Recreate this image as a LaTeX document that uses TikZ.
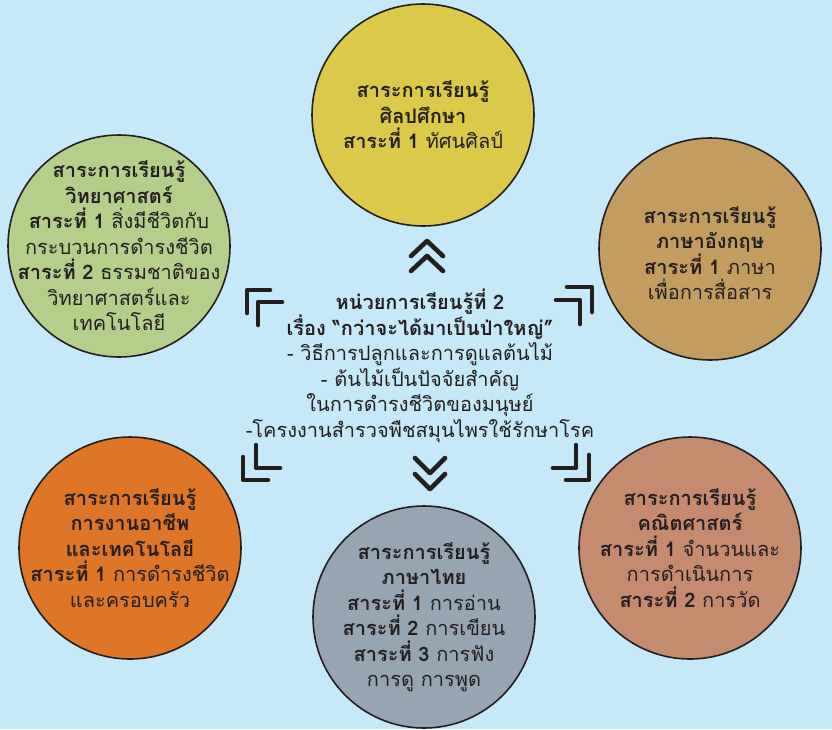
\documentclass[tikz,border=0pt]{standalone}
\usepackage{fontspec}
\setmainfont[Script=Thai]{Loma}
\definecolor{bg}{RGB}{198,233,249}
\definecolor{ink}{RGB}{35,31,32}
\definecolor{cyellow}{RGB}{220,201,74}
\definecolor{cgreen}{RGB}{181,207,138}
\definecolor{ctan}{RGB}{194,157,95}
\definecolor{corange}{RGB}{222,117,39}
\definecolor{cgrey}{RGB}{151,165,178}
\definecolor{cpink}{RGB}{196,139,110}
\tikzset{
  subj/.style={circle, draw=ink, line width=1.6pt, inner sep=0pt, minimum size=222pt},
  txt/.style={align=center, text=ink, inner sep=0pt, font=\fontsize{20}{25.5}\selectfont},
  glyphline/.style={draw=ink, line width=4.6pt, line cap=round, line join=round},
}
\begin{document}
\begin{tikzpicture}[x=1pt,y=-1pt]
\useasboundingbox[fill=bg] (0,0) rectangle (832,729);
% circles
\node[subj, fill=cyellow] (art) at (423,115) {};
\node[subj, fill=cgreen] (sci) at (119,246) {};
\node[subj, fill=ctan] (eng) at (710,249) {};
\node[subj, fill=corange] (occ) at (130,548) {};
\node[subj, fill=cgrey] (tha) at (424,617) {};
\node[subj, fill=cpink] (mat) at (690,548) {};
% texts
\node[txt] (artT) at (art) {\textbf{สาระการเรียนรู้}\\\textbf{ศิลปศึกษา}\\\textbf{สาระที่ 1} ทัศนศิลป์};
\node[txt] (sciT) at (sci) {\textbf{สาระการเรียนรู้}\\\textbf{วิทยาศาสตร์}\\\textbf{สาระที่ 1} สิ่งมีชีวิตกับ\\กระบวนการดำรงชีวิต\\\textbf{สาระที่ 2} ธรรมชาติของ\\วิทยาศาสตร์และ\\เทคโนโลยี};
\node[txt] (engT) at (710,253) {\textbf{สาระการเรียนรู้}\\\textbf{ภาษาอังกฤษ}\\\textbf{สาระที่ 1} ภาษา\\เพื่อการสื่อสาร};
\node[txt] (occT) at (occ) {\textbf{สาระการเรียนรู้}\\\textbf{การงานอาชีพ}\\\textbf{และเทคโนโลยี}\\\textbf{สาระที่ 1} การดำรงชีวิต\\และครอบครัว};
\node[txt] (thaT) at (tha) {\textbf{สาระการเรียนรู้}\\\textbf{ภาษาไทย}\\\textbf{สาระที่ 1} การอ่าน\\\textbf{สาระที่ 2} การเขียน\\\textbf{สาระที่ 3} การฟัง\\การดู การพูด};
\node[txt] (matT) at (mat) {\textbf{สาระการเรียนรู้}\\\textbf{คณิตศาสตร์}\\\textbf{สาระที่ 1} จำนวนและ\\การดำเนินการ\\\textbf{สาระที่ 2} การวัด};
% centre text
\node[txt] (unit) at (420,366) {\textbf{หน่วยการเรียนรู้ที่ 2}\\\textbf{เรื่อง “กว่าจะได้มาเป็นป่าใหญ่”}\\- วิธีการปลูกและการดูแลต้นไม้\\- ต้นไม้เป็นปัจจัยสำคัญ\\ในการดำรงชีวิตของมนุษย์\\-โครงงานสำรวจพืชสมุนไพรใช้รักษาโรค};
% corner marks
\coordinate (tl1) at (247,290); \coordinate (tl2) at (258,302);
\draw[glyphline] ([xshift=23pt]tl1) -- (tl1) -- ([yshift=-23pt]tl1);
\draw[glyphline] ([xshift=24pt]tl2) -- (tl2) -- ([yshift=-23pt]tl2);
\coordinate (tr1) at (592,287); \coordinate (tr2) at (580,300);
\draw[glyphline] ([xshift=-25pt]tr1) -- (tr1) -- ([yshift=-25pt]tr1);
\draw[glyphline] ([xshift=-24pt]tr2) -- (tr2) -- ([yshift=-24pt]tr2);
\coordinate (bl1) at (243,480); \coordinate (bl2) at (256,468);
\draw[glyphline] ([yshift=23pt]bl1) -- (bl1) -- ([xshift=25pt]bl1);
\draw[glyphline] ([yshift=23pt]bl2) -- (bl2) -- ([xshift=24pt]bl2);
\coordinate (br1) at (589,480); \coordinate (br2) at (576,468);
\draw[glyphline] ([yshift=25pt]br1) -- (br1) -- ([xshift=-23pt]br1);
\draw[glyphline] ([yshift=23pt]br2) -- (br2) -- ([xshift=-23pt]br2);
% chevrons
\coordinate (up1) at (427,241); \coordinate (up2) at (427,256);
\draw[glyphline] ([shift={(-16pt,-15pt)}]up1) -- (up1) -- ([shift={(16pt,-15pt)}]up1);
\draw[glyphline] ([shift={(-16pt,-15pt)}]up2) -- (up2) -- ([shift={(16pt,-15pt)}]up2);
\coordinate (dn1) at (430,473); \coordinate (dn2) at (430,489);
\draw[glyphline] ([shift={(-15pt,15pt)}]dn1) -- (dn1) -- ([shift={(15pt,15pt)}]dn1);
\draw[glyphline] ([shift={(-15pt,15pt)}]dn2) -- (dn2) -- ([shift={(15pt,15pt)}]dn2);
\end{tikzpicture}
\end{document}
